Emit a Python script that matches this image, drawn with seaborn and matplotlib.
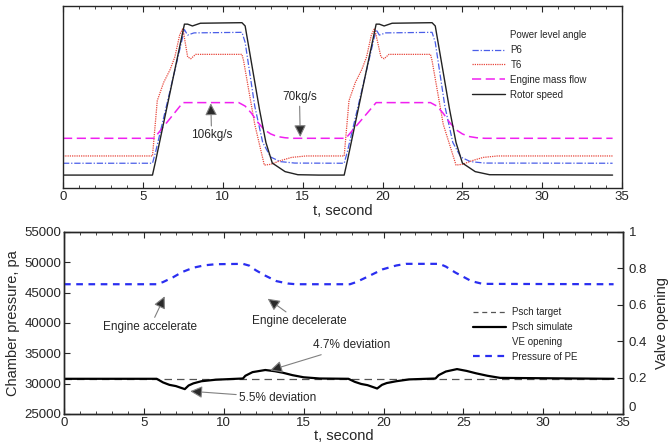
import numpy as np
import pandas as pd
import matplotlib
matplotlib.use("Agg")
import matplotlib.pyplot as plt
from matplotlib.lines import Line2D
from matplotlib.ticker import MultipleLocator
import seaborn as sns

# ---------------- top panel (normalised response, 0 = bottom of axes) ----------------
T_ROTOR = [0, 5.6, 5.8, 7.6, 7.8, 8.1, 8.6, 11.2, 11.4, 12.3, 12.7, 13.1, 13.9, 14.7, 16.0,
           17.6, 17.8, 19.6, 19.8, 20.1, 20.6, 23.1, 23.3, 24.2, 24.6, 25.0, 25.8, 26.7, 34.4]
V_ROTOR = [0.071, 0.071, 0.15, 0.90, 0.90, 0.89, 0.905, 0.908, 0.89, 0.43, 0.25, 0.137, 0.09, 0.073, 0.071,
           0.071, 0.15, 0.90, 0.90, 0.89, 0.905, 0.908, 0.89, 0.43, 0.25, 0.137, 0.09, 0.073, 0.071]

T_P6 = [0, 5.6, 5.8, 7.6, 7.8, 8.2, 11.2, 11.4, 12.0, 12.5, 13.0, 13.6, 14.5,
        17.6, 17.8, 19.6, 19.8, 20.2, 23.1, 23.3, 23.9, 24.4, 24.9, 25.5, 26.4, 34.4]
V_P6 = [0.136, 0.136, 0.2, 0.87, 0.84, 0.852, 0.855, 0.80, 0.45, 0.25, 0.17, 0.145, 0.137,
        0.136, 0.2, 0.87, 0.84, 0.852, 0.855, 0.80, 0.45, 0.25, 0.17, 0.145, 0.137, 0.136]

T_T6 = [0, 5.6, 5.9, 6.3, 6.7, 7.0, 7.3, 7.5, 7.8, 8.0, 8.3, 11.2, 11.3, 12.0, 12.6, 13.0, 13.6, 14.3, 15.2,
        17.6, 17.9, 18.3, 18.7, 19.0, 19.3, 19.5, 19.9, 20.1, 20.4, 23.0, 23.1, 23.8, 24.6, 25.0, 25.6, 26.3, 27.2, 34.4]
V_T6 = [0.176, 0.176, 0.48, 0.58, 0.65, 0.72, 0.84, 0.877, 0.72, 0.71, 0.734, 0.734, 0.70, 0.35, 0.126, 0.13, 0.15, 0.168, 0.176,
        0.176, 0.48, 0.58, 0.65, 0.72, 0.84, 0.877, 0.72, 0.71, 0.734, 0.734, 0.70, 0.35, 0.126, 0.13, 0.15, 0.168, 0.176, 0.176]

T_FLOW = [0, 5.7, 7.5, 11.0, 11.4, 11.8, 12.2, 12.6, 13.0, 13.4, 13.9, 14.4,
          17.7, 19.6, 23.0, 23.4, 23.8, 24.2, 24.6, 25.0, 25.4, 25.9, 26.4, 34.4]
V_FLOW = [0.273, 0.273, 0.469, 0.469, 0.45, 0.41, 0.36, 0.32, 0.297, 0.283, 0.276, 0.273,
          0.273, 0.469, 0.469, 0.45, 0.41, 0.36, 0.32, 0.297, 0.283, 0.276, 0.273, 0.273]

# ---------------- bottom panel ----------------
T_TARGET = [0, 34.4]
V_TARGET = [30700, 30700]

T_SIM = [0, 5.8, 6.2, 6.6, 7.0, 7.56, 7.8, 8.1, 8.6, 9.5, 11.2, 11.35, 11.8, 12.6, 13.2, 13.7, 14.3, 15.0, 16.0,
         17.8, 18.2, 18.6, 19.0, 19.6, 19.9, 20.2, 20.8, 21.6, 23.25, 23.45, 23.9, 24.6, 25.2, 25.8, 26.5, 27.3, 34.4]
V_SIM = [30800, 30800, 30200, 29800, 29600, 29100, 29700, 30050, 30400, 30650, 30850, 31300, 31900, 32250, 32050, 31800, 31400, 31050, 30850,
         30800, 30300, 29950, 29750, 29200, 29800, 30100, 30400, 30700, 30850, 31400, 32000, 32400, 32100, 31700, 31300, 30950, 30800]

T_VALVE = [0, 5.8, 6.2, 6.8, 7.4, 8.1, 8.8, 9.5, 11.2, 11.6, 12.0, 12.6, 13.3, 14.0, 14.5,
           17.9, 18.3, 18.9, 19.95, 20.8, 21.4, 23.5, 23.9, 24.5, 25.5, 26.2, 34.4]
V_VALVE = [0.713, 0.713, 0.725, 0.75, 0.78, 0.804, 0.817, 0.823, 0.825, 0.815, 0.79, 0.76, 0.73, 0.717, 0.713,
           0.713, 0.725, 0.75, 0.795, 0.816, 0.825, 0.825, 0.81, 0.777, 0.73, 0.715, 0.713]

VALVE_TICKS = [0, 0.2, 0.4, 0.6, 0.8, 1]
VALVE_TICK_LABELS = ["0", "0.2", "0.4", "0.6", "0.8", "1"]

sns.set_style("ticks")
plt.rcParams["font.family"] = ["Liberation Sans", "DejaVu Sans"]
plt.rcParams["xtick.direction"] = "in"
plt.rcParams["ytick.direction"] = "in"

fig = plt.figure(figsize=(6.69, 4.43), dpi=100)
ax1 = fig.add_axes([0.0942, 0.5756, 0.8358, 0.411])
ax2 = fig.add_axes([0.0957, 0.0655, 0.8358, 0.4108])

# ---- top ----
sns.lineplot(x=T_P6, y=V_P6, ax=ax1, color="#4a5ee8", lw=0.9, linestyle=(0, (5, 1.5, 1, 1.5)), sort=False)
sns.lineplot(x=T_T6, y=V_T6, ax=ax1, color="#e8473c", lw=0.9, linestyle=(0, (1, 0.8)), sort=False)
sns.lineplot(x=T_FLOW, y=V_FLOW, ax=ax1, color="#f020f0", lw=1.1, linestyle=(0, (6, 3)), sort=False)
sns.lineplot(x=T_ROTOR, y=V_ROTOR, ax=ax1, color="#222222", lw=1.0, sort=False)
ax1.set_xlim(0, 35)
ax1.set_ylim(0, 1)
ax1.set_yticks([])
ax1.xaxis.set_major_locator(MultipleLocator(5))
ax1.xaxis.set_minor_locator(MultipleLocator(1))
ax1.tick_params(axis="x", which="both", top=True, labelsize=9.5, length=4, pad=2)
ax1.tick_params(axis="x", which="minor", length=2)
ax1.set_xlabel("t, second", fontsize=10.5, labelpad=1)
for s in ax1.spines.values():
    s.set_linewidth(1.0)

top_handles = [
    Line2D([], [], color="none"),
    Line2D([], [], color="#4a5ee8", lw=0.9, linestyle=(0, (5, 1.5, 1, 1.5))),
    Line2D([], [], color="#e8473c", lw=0.9, linestyle=(0, (1, 0.8))),
    Line2D([], [], color="#f020f0", lw=1.1, linestyle=(0, (6, 3))),
    Line2D([], [], color="#222222", lw=1.0),
]
top_labels = ["Power level angle", "P6", "T6", "Engine mass flow", "Rotor speed"]
ax1.legend(top_handles, top_labels, loc="upper left", bbox_to_anchor=(0.715, 0.915), frameon=False,
           fontsize=7, handlelength=3.4, labelspacing=0.5, handletextpad=0.6)

arrow_kw = dict(arrowstyle="-|>", fc="#2a2a2a", ec="#808080", lw=0.8, mutation_scale=18, shrinkA=0, shrinkB=0)

ax1.annotate("106kg/s", xy=(9.25, 0.465), xytext=(9.3, 0.29), ha="center", va="center", fontsize=8.5,
             arrowprops=arrow_kw)
ax1.annotate("70kg/s", xy=(14.85, 0.28), xytext=(14.8, 0.50), ha="center", va="center", fontsize=8.5,
             arrowprops=arrow_kw)

# ---- bottom ----
sns.lineplot(x=T_TARGET, y=V_TARGET, ax=ax2, color="#555555", lw=0.9, linestyle=(0, (6, 4)), sort=False)
sns.lineplot(x=T_SIM, y=V_SIM, ax=ax2, color="black", lw=1.6, sort=False)
ax2.set_xlim(0, 35)
ax2.set_ylim(25000, 55000)
ax2.yaxis.set_major_locator(MultipleLocator(5000))
ax2.xaxis.set_major_locator(MultipleLocator(5))
ax2.xaxis.set_minor_locator(MultipleLocator(1))
ax2.tick_params(axis="both", which="both", top=True, labelsize=9.5, length=4, pad=2)
ax2.tick_params(axis="x", which="minor", length=2)
ax2.set_xlabel("t, second", fontsize=10.5, labelpad=0)
ax2.set_ylabel("Chamber pressure, pa", fontsize=10.5, labelpad=3)

ax3 = ax2.twinx()
sns.lineplot(x=T_VALVE, y=V_VALVE, ax=ax3, color="#2a2ef0", lw=1.6, linestyle=(0, (3, 2.5)), sort=False)
ax3.set_ylim(0, 1)
ax3.set_yticks(VALVE_TICKS)
ax3.set_yticklabels(VALVE_TICK_LABELS)
ax3.tick_params(axis="y", direction="in", labelsize=9.5, length=4, pad=4)
ax3.get_yticklabels()[0].set_va("bottom")
ax3.set_ylabel("Valve opening", fontsize=10.5, labelpad=6)
for a in (ax2, ax3):
    for s in a.spines.values():
        s.set_linewidth(1.0)

bot_handles = [
    Line2D([], [], color="#555555", lw=0.9, linestyle=(0, (4, 3))),
    Line2D([], [], color="black", lw=1.6),
    Line2D([], [], color="none"),
    Line2D([], [], color="#2a2ef0", lw=1.6, linestyle=(0, (3, 2.5))),
]
bot_labels = ["Psch target", "Psch simulate", "VE opening", "Pressure of PE"]
ax3.legend(bot_handles, bot_labels, loc="upper left", bbox_to_anchor=(0.715, 0.635), frameon=False,
           fontsize=7, handlelength=3.4, labelspacing=0.5, handletextpad=0.7)

ax2.annotate("Engine accelerate", xy=(6.3, 44400), xytext=(5.4, 39400), ha="center", va="center",
             fontsize=8.5, arrowprops=arrow_kw)
ax2.annotate("Engine decelerate", xy=(12.75, 44000), xytext=(14.7, 40300), ha="center", va="center",
             fontsize=8.5, arrowprops=arrow_kw)
ax2.annotate("4.7% deviation", xy=(12.9, 32200), xytext=(18.0, 36300), ha="center", va="center",
             fontsize=8.5, arrowprops=arrow_kw)
ax2.annotate("5.5% deviation", xy=(7.9, 28750), xytext=(13.4, 27700), ha="center", va="center",
             fontsize=8.5, arrowprops=arrow_kw)

fig.savefig("out.png", dpi=100)
